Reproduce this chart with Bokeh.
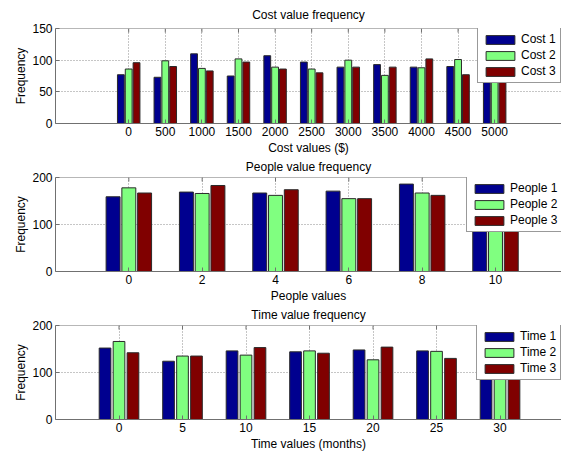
from bokeh.plotting import figure
from bokeh.models import Range1d, FixedTicker, Legend, LegendItem, ColumnDataSource, Span
from bokeh.transform import dodge
from bokeh.layouts import column
from bokeh.embed import file_html
from bokeh.resources import INLINE

# ---- data ----
cost_ticks = [0, 500, 1000, 1500, 2000, 2500, 3000, 3500, 4000, 4500, 5000]
cost1 = [77, 73, 110, 75, 107, 97, 89, 93, 89, 90, 85]
cost2 = [86, 99, 87, 102, 89, 86, 100, 76, 88, 101, 90]
cost3 = [96, 90, 83, 97, 86, 80, 89, 89, 102, 77, 82]
cost_names = ["Cost 1", "Cost 2", "Cost 3"]
cost_yticks = [0, 50, 100, 150]

people_ticks = [0, 2, 4, 6, 8, 10]
people1 = [159, 169, 167, 171, 186, 165]
people2 = [178, 166, 162, 155, 167, 170]
people3 = [167, 183, 174, 155, 162, 160]
people_names = ["People 1", "People 2", "People 3"]
people_yticks = [0, 100, 200]

time_ticks = [0, 5, 10, 15, 20, 25, 30]
time1 = [152, 124, 146, 144, 148, 146, 150]
time2 = [166, 135, 137, 146, 127, 145, 140]
time3 = [142, 135, 153, 141, 154, 130, 145]
time_names = ["Time 1", "Time 2", "Time 3"]
time_yticks = [0, 100, 200]

COLORS = ["#00008F", "#80FF80", "#800000"]
FONT = "Liberation Sans"
FS = "12px"
AXC = "#707070"


def panel(title, xlabel, ticks, series, names, yticks, xr, yr, off, bw,
          height, top, bottom, legend_xy, title_standoff, title_valign):
    p = figure(width=561, height=height, x_range=Range1d(*xr), y_range=Range1d(*yr),
               output_backend="svg", toolbar_location=None, title=title,
               min_border_left=55, min_border_right=0,
               min_border_top=top, min_border_bottom=bottom)
    p.outline_line_color = None
    p.background_fill_color = "white"
    p.border_fill_color = "white"

    p.title.align = "center"
    p.title.vertical_align = title_valign
    p.title.text_font = FONT
    p.title.text_font_size = FS
    p.title.text_font_style = "normal"
    p.title.text_color = "black"
    p.title.standoff = title_standoff

    p.xgrid.ticker = FixedTicker(ticks=ticks)
    p.ygrid.ticker = FixedTicker(ticks=yticks)
    for g in (p.xgrid, p.ygrid):
        g.grid_line_color = "#8c8c8c"
        g.grid_line_dash = "1 2"
        g.grid_line_width = 1

    src = ColumnDataSource(dict(x=ticks, s0=series[0], s1=series[1], s2=series[2]))
    items = []
    for i, (col, name) in enumerate(zip(["s0", "s1", "s2"], names)):
        r = p.vbar(x=dodge("x", (i - 1) * off, range=p.x_range), top=col, width=bw,
                   source=src, fill_color=COLORS[i], line_color="#2a2a2a", line_width=1)
        items.append(LegendItem(label=name, renderers=[r]))

    for ax in (p.xaxis, p.yaxis):
        ax.axis_line_color = AXC
        ax.major_tick_line_color = AXC
        ax.major_tick_in = 4
        ax.major_tick_out = 0
        ax.minor_tick_line_color = None
        ax.major_label_text_font = FONT
        ax.major_label_text_font_size = FS
        ax.major_label_text_color = "black"
        ax.axis_label_text_font = FONT
        ax.axis_label_text_font_size = FS
        ax.axis_label_text_font_style = "normal"
        ax.axis_label_text_color = "black"

    p.xaxis.ticker = FixedTicker(ticks=ticks)
    p.xaxis.axis_label = xlabel
    p.xaxis.major_label_standoff = 3
    p.xaxis.axis_label_standoff = 2
    p.yaxis.ticker = FixedTicker(ticks=yticks)
    p.yaxis.axis_label = "Frequency"
    p.yaxis.major_label_standoff = 3
    p.yaxis.axis_label_standoff = 1

    # top border of the box with inward ticks
    p.add_layout(Span(location=yr[1], dimension="width", line_color=AXC, line_width=1))
    p.ray(x=ticks, y=[yr[1]] * len(ticks), length=4, length_units="screen",
          angle=-90, angle_units="deg", line_color=AXC, line_width=1)

    leg = Legend(items=items, location=legend_xy, border_line_color="#333333",
                 border_line_width=1, background_fill_color="white", background_fill_alpha=1,
                 padding=4, margin=0, spacing=2, glyph_width=36, glyph_height=11,
                 label_height=13, label_standoff=3, label_text_font=FONT,
                 label_text_font_size=FS, label_text_color="black")
    p.add_layout(leg)
    return p


p1 = panel("Cost value frequency", "Cost values ($)", cost_ticks, [cost1, cost2, cost3],
           cost_names, cost_yticks, (-1000, 5913), (0, 150), 107, 93,
           157, 28, 33, (422, 40), 11, "middle")
p2 = panel("People value frequency", "People values", people_ticks, [people1, people2, people3],
           people_names, people_yticks, (-2, 11.8), (0, 200), 0.43, 0.38,
           148, 20, 33, (411, 39), 4, "top")
p3 = panel("Time value frequency", "Time values (months)", time_ticks, [time1, time2, time3],
           time_names, time_yticks, (-5, 34.84), (0, 200), 1.1, 0.92,
           148, 20, 33, (421, 39), 4, "top")

layout = column(p1, p2, p3, spacing=0)
open("out.html", "w").write(file_html(layout, INLINE))
